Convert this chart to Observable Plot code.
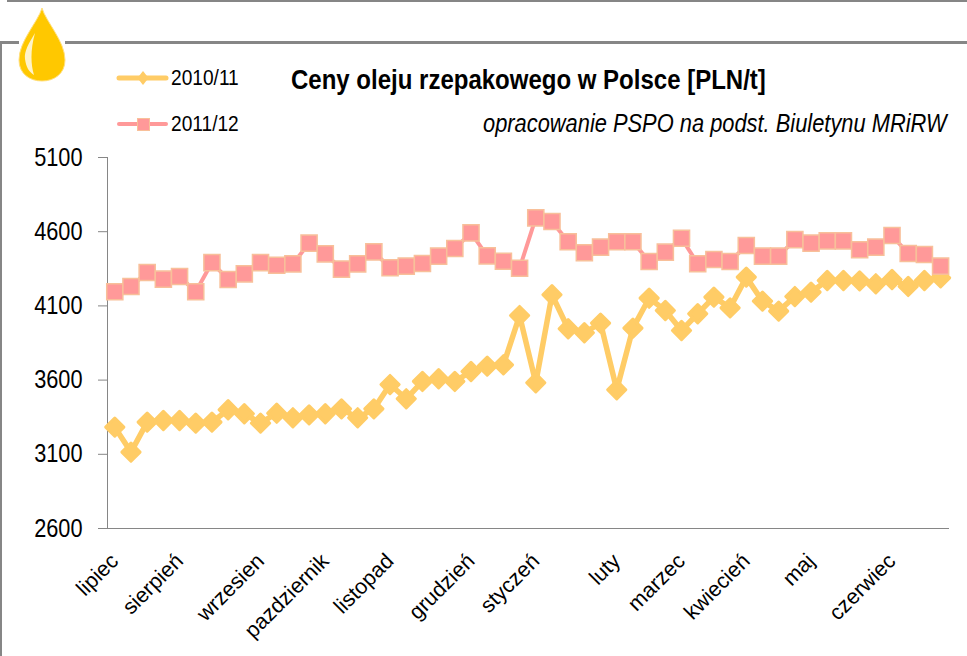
<!DOCTYPE html>
<html><head><meta charset="utf-8">
<script src="https://cdn.jsdelivr.net/npm/d3@7"></script>
<script src="https://cdn.jsdelivr.net/npm/@observablehq/plot@0.6"></script>
<style>
html,body{margin:0;padding:0;background:#fff;overflow:hidden}
#root{position:relative;width:967px;height:656px;font-family:"Liberation Sans",Arial,sans-serif;color:#000}
#root svg.plot{position:absolute;left:0;top:0}
.abs{position:absolute;white-space:nowrap;transform-origin:left center}
</style></head><body>
<div id="root"></div>
<script>
const series2010 = [3283,3115,3317,3328,3328,3310,3317,3400,3373,3310,3377,3346,3366,3373,3406,3346,3406,3570,3474,3591,3609,3591,3658,3694,3703,4035,3582,4175,3946,3919,3984,3535,3950,4152,4069,3934,4047,4159,4087,4294,4132,4065,4163,4193,4271,4271,4269,4249,4278,4231,4271,4289];
const series2011 = [4195,4231,4325,4280,4298,4195,4392,4278,4316,4392,4374,4383,4523,4451,4348,4383,4464,4357,4368,4386,4435,4487,4592,4437,4401,4354,4693,4669,4532,4458,4496,4532,4532,4399,4462,4556,4384,4413,4399,4507,4435,4435,4547,4523,4538,4538,4478,4496,4574,4453,4446,4368];
const monthLabels = ["lipiec","sierpień","wrzesien","pazdziernik","listopad","grudzień","styczeń","luty","marzec","kwiecień","maj","czerwiec"];
const monthWeeks = [0,4,9,13,17,22,26,31,35,39,43,48];
const yTicks = [2600,3100,3600,4100,4600,5100];
const weeks = series2010.map((_, i) => i);
const yellow = "#FFCC66", pink = "#FF9999", pinkEdge = "#F8C09A", gray = "#868686";

const chart = Plot.plot({
  width: 967, height: 656,
  marginTop: 157, marginBottom: 128, marginLeft: 107, marginRight: 18,
  style: {background: "transparent", fontFamily: '"Liberation Sans",Arial,sans-serif'},
  x: {domain: [-0.45, 51.55]},
  y: {domain: [2600, 5100]},
  marks: [
    Plot.axisY({ticks: yTicks, tickSize: 9, tickPadding: 16, fontSize: 25, stroke: gray, strokeWidth: 1, color: "#000", tickFormat: d => String(d), label: null}),
    Plot.axisX({ticks: monthWeeks, tickSize: 0, tickPadding: 29, tickRotate: -45, fontSize: 21.5, textAnchor: "end", tickFormat: d => monthLabels[monthWeeks.indexOf(d)], label: null, color: "#000"}),
    Plot.ruleX([-0.45], {stroke: gray}),
    Plot.ruleY([2600], {stroke: gray}),
    Plot.line(weeks, {x: d => d, y: d => series2010[d], stroke: yellow, strokeWidth: 5.5, curve: "linear"}),
    Plot.dot(weeks, {x: d => d, y: d => series2010[d], symbol: "diamond2", r: 8.2, fill: yellow, stroke: yellow, strokeWidth: 3, strokeLinejoin: "round"}),
    Plot.line(weeks, {x: d => d, y: d => series2011[d], stroke: pink, strokeWidth: 4, curve: "linear"}),
    Plot.dot(weeks, {x: d => d, y: d => series2011[d], symbol: "square", r: 9.1, fill: pink, stroke: pinkEdge, strokeWidth: 1.5})
  ]
});
chart.classList.add("plot");
chart.querySelectorAll('g[aria-label="y-axis tick label"] text').forEach(t => {
  const tr = t.getAttribute("transform");
  if (tr) t.setAttribute("transform", tr + " scale(0.87,1)");
});
const root = document.getElementById("root");
root.appendChild(chart);

function add(html){ const t=document.createElement("template"); t.innerHTML=html.trim(); root.appendChild(t.content.firstChild); }
// frame
add(`<div class="abs" style="left:7px;top:0;width:960px;height:2px;background:${gray}"></div>`);
add(`<div class="abs" style="left:0;top:41px;width:19px;height:3px;background:${gray}"></div>`);
add(`<div class="abs" style="left:65px;top:41px;width:902px;height:3px;background:${gray}"></div>`);
add(`<div class="abs" style="left:0;top:41px;width:2px;height:615px;background:${gray}"></div>`);
// drop
add(`<svg class="abs" style="left:17px;top:5px" width="50" height="80" viewBox="0 0 50 80">
<path d="M25 3 C29 17 48 36 48 55 C48 69 37 76 25 76 C13 76 2 69 2 55 C2 36 21 17 25 3Z" fill="#FFC800" stroke="#FFE080" stroke-width="1"/>
<path d="M18 28 C12 38 7 46 8 54 C9 62 12 67 17 70 C14 60 13 46 18 28Z" fill="#FFF3C8"/></svg>`);
// legend
add(`<svg class="abs" style="left:115px;top:66px" width="56" height="24"><line x1="4" x2="51" y1="12" y2="12" stroke="${yellow}" stroke-width="5" stroke-linecap="round"/><path d="M28 5 L32 10 L32 14 L28 19 L24 14 L24 10Z" fill="${yellow}"/></svg>`);
add(`<svg class="abs" style="left:115px;top:112px" width="56" height="24"><line x1="4" x2="51" y1="12" y2="12" stroke="${pink}" stroke-width="4" stroke-linecap="round"/><rect x="22.5" y="6.5" width="12" height="12" fill="${pink}" stroke="${pinkEdge}"/></svg>`);
add(`<div class="abs" style="left:171px;top:66px;font-size:22px;line-height:24px;transform:scaleX(.87)">2010/11</div>`);
add(`<div class="abs" style="left:171px;top:112px;font-size:22px;line-height:24px;transform:scaleX(.87)">2011/12</div>`);
// title
add(`<div class="abs" style="left:291px;top:66px;font-size:27px;line-height:28px;font-weight:bold;transform:scaleX(.889)">Ceny oleju rzepakowego w Polsce [PLN/t]</div>`);
add(`<div class="abs" style="left:483px;top:110px;font-size:25px;line-height:26px;font-style:italic;transform:scaleX(.874)">opracowanie PSPO na podst. Biuletynu MRiRW</div>`);
</script>
</body></html>
